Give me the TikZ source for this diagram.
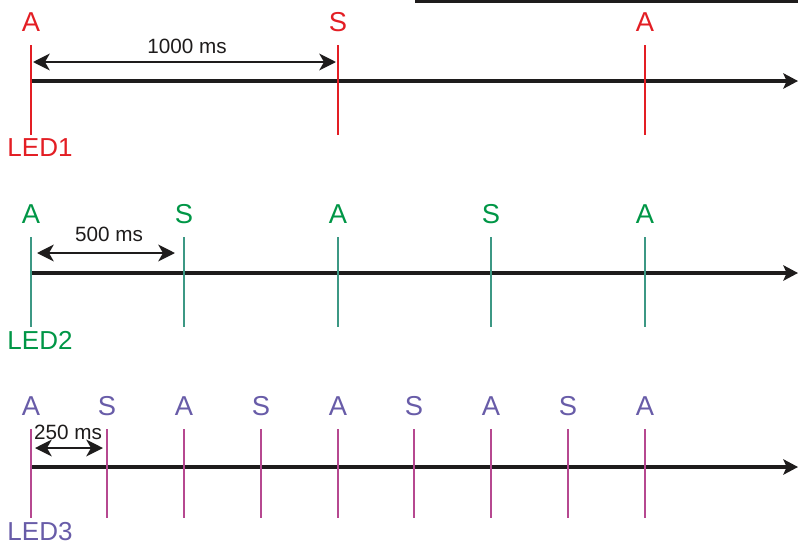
\documentclass[tikz,border=0pt]{standalone}
\usepackage{fontspec}
\setmainfont{Liberation Sans}
\usetikzlibrary{arrows.meta}
\definecolor{ledred}{RGB}{227,30,36}
\definecolor{ledgreen}{RGB}{0,150,70}
\definecolor{tickteal}{RGB}{60,152,132}
\definecolor{ledpurple}{RGB}{104,92,168}
\definecolor{tickmag}{RGB}{182,72,144}
\definecolor{ink}{RGB}{30,28,28}
\begin{document}
\begin{tikzpicture}[x=0.75pt,y=-0.75pt,
  timeaxis/.style={ink,line width=2.5pt,-{Stealth[length=11pt,width=11.5pt,inset=2.5pt]}},
  spanarrow/.style={ink,line width=2pt,{Stealth[length=12.5pt,width=12.5pt,inset=3.5pt]}-{Stealth[length=12.5pt,width=12.5pt,inset=3.5pt]}},
  evtick/.style={line width=1.9pt},
  evlabel/.style={font=\fontsize{20.5}{22}\selectfont,inner sep=0pt},
  ledname/.style={font=\fontsize{19.5}{22}\selectfont,inner sep=0pt},
  dimtext/.style={ink,font=\fontsize{15.5}{17}\selectfont,inner sep=0pt}]
\useasboundingbox (0,0) rectangle (798,543);

% rule across the top
\coordinate (ruleL) at (415,1.2);
\coordinate (ruleR) at (798,1.2);
\draw[ink,line width=2.4pt] (ruleL) -- (ruleR);

% ---------- LED1: 1000 ms period ----------
\coordinate (ax1s) at (31,81);
\coordinate (ax1e) at (798,81);
\draw[timeaxis] (ax1s) -- (ax1e);
\foreach \x/\l [count=\i] in {31/A,338/S,645/A}{
  \coordinate (t1top\i) at (\x,45);
  \coordinate (t1bot\i) at (\x,135);
  \draw[evtick,ledred] (t1top\i) -- (t1bot\i);
  \node[evlabel,ledred] (m1\i) at (\x,22) {\l};
}
\node[ledname,ledred] (led1) at (40,148) {LED1};
\coordinate (d1a) at (33,62);
\coordinate (d1b) at (336,62);
\draw[spanarrow] (d1a) -- (d1b);
\node[dimtext] (p1) at (187,46) {1000 ms};

% ---------- LED2: 500 ms period ----------
\coordinate (ax2s) at (31,273);
\coordinate (ax2e) at (798,273);
\draw[timeaxis] (ax2s) -- (ax2e);
\foreach \x/\l [count=\i] in {31/A,184/S,338/A,491/S,645/A}{
  \coordinate (t2top\i) at (\x,237);
  \coordinate (t2bot\i) at (\x,327);
  \draw[evtick,tickteal] (t2top\i) -- (t2bot\i);
  \node[evlabel,ledgreen] (m2\i) at (\x,214) {\l};
}
\node[ledname,ledgreen] (led2) at (40,340) {LED2};
\coordinate (d2a) at (37,253);
\coordinate (d2b) at (175,253);
\draw[spanarrow] (d2a) -- (d2b);
\node[dimtext] (p2) at (109,234) {500 ms};

% ---------- LED3: 250 ms period ----------
\coordinate (ax3s) at (31,467);
\coordinate (ax3e) at (798,467);
\draw[timeaxis] (ax3s) -- (ax3e);
\foreach \x/\l [count=\i] in {31/A,107/S,184/A,261/S,338/A,414/S,491/A,568/S,645/A}{
  \coordinate (t3top\i) at (\x,429);
  \coordinate (t3bot\i) at (\x,518);
  \draw[evtick,tickmag] (t3top\i) -- (t3bot\i);
  \node[evlabel,ledpurple] (m3\i) at (\x,406) {\l};
}
\node[ledname,ledpurple] (led3) at (40,532) {LED3};
\coordinate (d3a) at (35,448);
\coordinate (d3b) at (103,448);
\draw[spanarrow] (d3a) -- (d3b);
\node[dimtext] (p3) at (68,432) {250 ms};
\end{tikzpicture}
\end{document}
